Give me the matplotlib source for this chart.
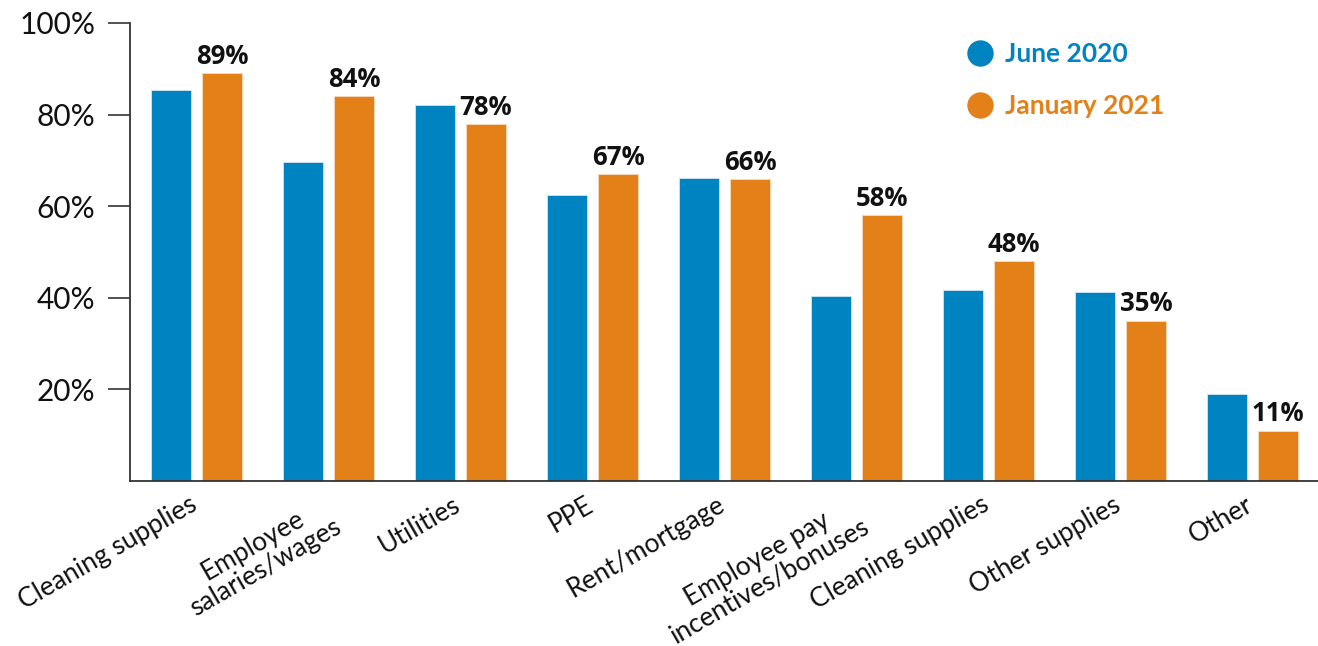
import numpy as np
import matplotlib
matplotlib.use("Agg")
from matplotlib import pyplot as plt
from matplotlib.lines import Line2D

categories = ['Cleaning supplies', 'Employee\nsalaries/wages', 'Utilities', 'PPE',
              'Rent/mortgage', 'Employee pay\nincentives/bonuses', 'Cleaning supplies',
              'Other supplies', 'Other']
june_2020 = [85.4, 69.7, 82.1, 62.4, 66.2, 40.4, 41.7, 41.3, 19.0]
jan_2021 = [89, 84, 78, 67, 66, 58, 48, 35, 11]
yticks = [20, 40, 60, 80, 100]
ytick_labels = ['20%', '40%', '60%', '80%', '100%']

blue = '#0083C1'
orange = '#E38017'

plt.rcParams['font.family'] = ['Lato', 'DejaVu Sans']

fig = plt.figure(figsize=(13.18, 6.46), dpi=100)
ax = fig.add_axes([130 / 1318, 1 - 481 / 646, 1 - 130 / 1318, (481 - 23) / 646])

x = np.arange(len(categories))
w = 0.303
off = 0.193
ax.bar(x - off, june_2020, w, color=blue, edgecolor='#cfe6f3', linewidth=0.6)
bars = ax.bar(x + off, jan_2021, w, color=orange, edgecolor='#f6dcc0', linewidth=0.6)

for b, v in zip(bars, jan_2021):
    ax.text(b.get_x() + b.get_width() / 2, v + 0.7, f'{v}%', ha='center', va='bottom',
            fontsize=18.5, fontweight='bold', family=['Open Sans', 'DejaVu Sans'], color='#111111')

ax.set_xlim(-0.504, 8.496)
ax.set_ylim(0, 100)
ax.set_yticks(yticks)
ax.set_yticklabels(ytick_labels, fontsize=21.5, color='#111111')
# labels sit a little left of the group centre
ax.set_xticks(x - 0.06)
ax.set_xticklabels(categories, rotation=30, ha='right', rotation_mode='anchor',
                   fontsize=19, color='#111111', multialignment='center', linespacing=1.0)
ax.tick_params(axis='x', length=0, pad=8)
ax.tick_params(axis='y', length=16, width=1.2, color='#333333', pad=9)

for s in ['top', 'right']:
    ax.spines[s].set_visible(False)
for s in ['left', 'bottom']:
    ax.spines[s].set_color('#333333')
    ax.spines[s].set_linewidth(1.3)

handles = [Line2D([], [], marker='o', linestyle='none', markersize=18, color=blue),
           Line2D([], [], marker='o', linestyle='none', markersize=18, color=orange)]
leg = ax.legend(handles, ['June 2020', 'January 2021'], loc='upper left',
                bbox_to_anchor=(0.684, 1.01), frameon=False, handlelength=1.0,
                handletextpad=0.45, labelspacing=1.05,
                prop={'family': 'Lato', 'weight': 'bold', 'size': 19})
for t, c in zip(leg.get_texts(), [blue, orange]):
    t.set_color(c)

fig.savefig('out.png', dpi=100)
